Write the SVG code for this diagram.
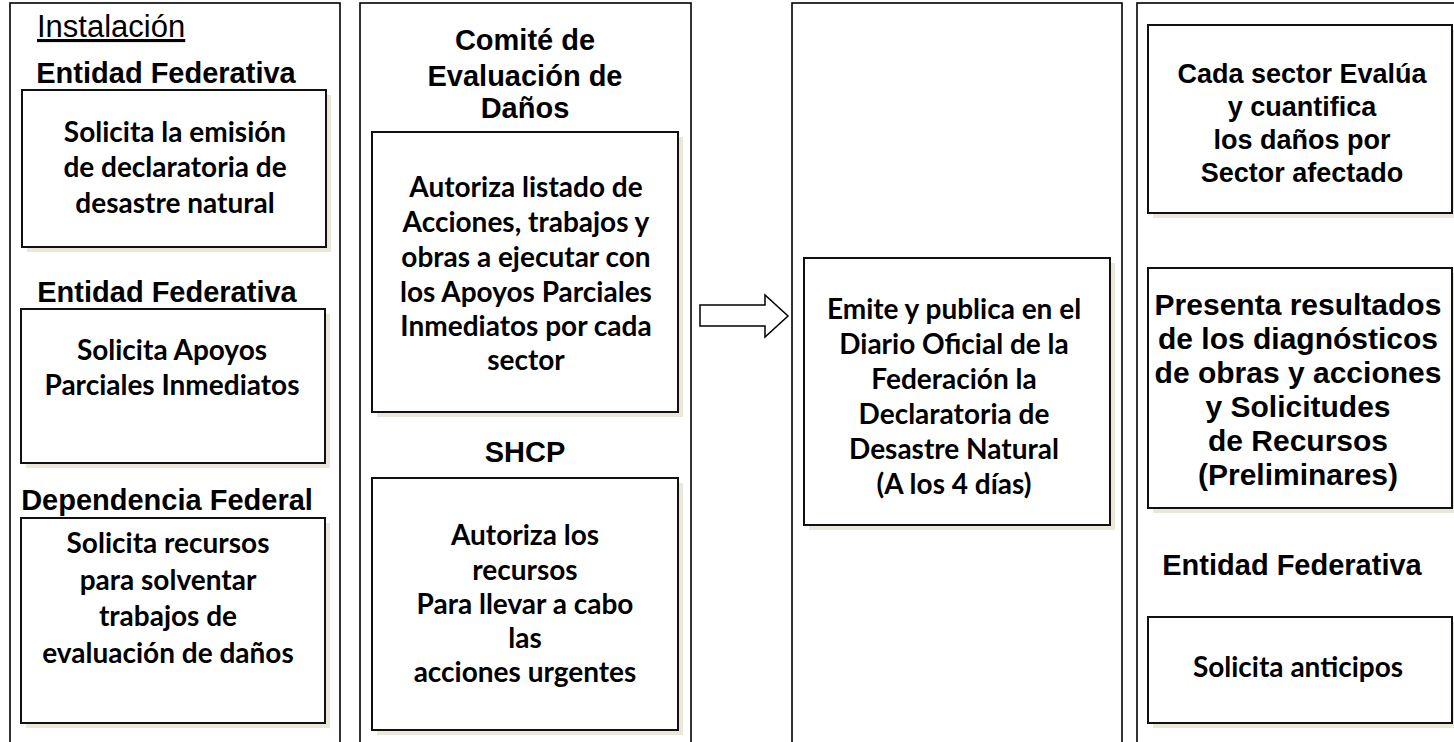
<svg xmlns="http://www.w3.org/2000/svg" width="1454" height="742" viewBox="0 0 1454 742">
<style>
.col{fill:#fff;stroke:#000;stroke-width:1.6}
.box{fill:#fff;stroke:#111;stroke-width:2}
.sh{fill:#ebe7dc}
.hd{font-family:"Liberation Sans",Arial,sans-serif;font-weight:bold;font-size:29px;fill:#000;text-anchor:middle}
.ar{font-family:"Liberation Sans",Arial,sans-serif;font-weight:bold;fill:#000;text-anchor:middle}
.cb{font-family:Lato,"Noto Sans",sans-serif;font-weight:bold;font-size:28px;fill:#000;text-anchor:middle}
.arrow{fill:#fff;stroke:#000;stroke-width:1.5}
</style>
<rect width="1454" height="742" fill="#fff"/>
<g id="columns">
<rect class="col" x="10" y="3" width="330" height="760"/>
<rect class="col" x="360" y="3" width="331" height="760"/>
<rect class="col" x="792" y="3" width="330" height="760"/>
<rect class="col" x="1137" y="3" width="340" height="760"/>
</g>
<g id="col1-title">
<text x="37" y="37" font-family="Liberation Sans,Arial,sans-serif" font-size="31" text-decoration="underline" fill="#000">Instalación</text>
</g>
<g id="n1">
<text class="hd" x="166" y="83">Entidad Federativa</text>
<rect class="sh" x="27" y="95" width="304" height="157"/>
<rect class="box" x="22" y="90" width="304" height="157"/>
<text class="cb" font-size="30" x="175" y="142">Solicita la emisión</text>
<text class="cb" font-size="30" x="175" y="177">de declaratoria de</text>
<text class="cb" font-size="30" x="175" y="213">desastre natural</text>
</g>
<g id="n2">
<text class="hd" x="167" y="302">Entidad Federativa</text>
<rect class="sh" x="26" y="314" width="304" height="154"/>
<rect class="box" x="21" y="309" width="304" height="154"/>
<text class="cb" font-size="27.5" x="172" y="360">Solicita Apoyos</text>
<text class="cb" font-size="27.5" x="172" y="395">Parciales Inmediatos</text>
</g>
<g id="n3">
<text class="hd" x="167" y="510">Dependencia Federal</text>
<rect class="sh" x="26" y="523" width="304" height="205"/>
<rect class="box" x="21" y="518" width="304" height="205"/>
<text class="cb" font-size="27" x="168" y="553">Solicita recursos</text>
<text class="cb" font-size="27" x="168" y="590">para solventar</text>
<text class="cb" font-size="27" x="168" y="626">trabajos de</text>
<text class="cb" font-size="27" x="168" y="663">evaluación de daños</text>
</g>
<g id="n4">
<text class="hd" x="525" y="50">Comité de</text>
<text class="hd" x="525" y="86">Evaluación de</text>
<text class="hd" x="525" y="118">Daños</text>
<rect class="sh" x="377" y="137" width="306" height="280"/>
<rect class="box" x="372" y="132" width="306" height="280"/>
<text class="cb" x="526" y="197">Autoriza listado de</text>
<text class="cb" x="526" y="232">Acciones, trabajos y</text>
<text class="cb" x="526" y="267">obras a ejecutar con</text>
<text class="cb" x="526" y="302">los Apoyos Parciales</text>
<text class="cb" x="526" y="336">Inmediatos por cada</text>
<text class="cb" x="526" y="370">sector</text>
</g>
<g id="n5">
<text class="hd" x="525" y="462">SHCP</text>
<rect class="sh" x="377" y="483" width="306" height="252"/>
<rect class="box" x="372" y="478" width="306" height="252"/>
<text class="cb" x="525" y="545">Autoriza los</text>
<text class="cb" x="525" y="580">recursos</text>
<text class="cb" x="525" y="614">Para llevar a cabo</text>
<text class="cb" x="525" y="648">las</text>
<text class="cb" x="525" y="682">acciones urgentes</text>
</g>
<g id="n6">
<rect class="sh" x="809" y="263" width="306" height="267"/>
<rect class="box" x="804" y="258" width="306" height="267"/>
<text class="cb" x="954" y="319">Emite y publica en el</text>
<text class="cb" x="954" y="354">Diario Oficial de la</text>
<text class="cb" x="954" y="389">Federación la</text>
<text class="cb" x="954" y="424">Declaratoria de</text>
<text class="cb" x="954" y="459">Desastre Natural</text>
<text class="cb" x="954" y="494">(A los 4 días)</text>
</g>
<g id="n7">
<rect class="sh" x="1153" y="30" width="304" height="188"/>
<rect class="box" x="1148" y="25" width="304" height="188"/>
<text class="ar" font-size="27" x="1302" y="83">Cada sector Evalúa</text>
<text class="ar" font-size="27" x="1302" y="116">y cuantifica</text>
<text class="ar" font-size="27" x="1302" y="149">los daños por</text>
<text class="ar" font-size="27" x="1302" y="182">Sector afectado</text>
</g>
<g id="n8">
<rect class="sh" x="1153" y="273" width="304" height="240"/>
<rect class="box" x="1148" y="268" width="304" height="240"/>
<text class="ar" font-size="30" x="1298" y="315">Presenta resultados</text>
<text class="ar" font-size="30" x="1298" y="349">de los diagnósticos</text>
<text class="ar" font-size="30" x="1298" y="383">de obras y acciones</text>
<text class="ar" font-size="30" x="1298" y="417">y Solicitudes</text>
<text class="ar" font-size="30" x="1298" y="451">de Recursos</text>
<text class="ar" font-size="30" x="1298" y="485">(Preliminares)</text>
</g>
<g id="n9">
<text class="hd" x="1292" y="575">Entidad Federativa</text>
<rect class="sh" x="1153" y="622" width="304" height="106"/>
<rect class="box" x="1148" y="617" width="304" height="106"/>
<text class="cb" x="1298" y="677">Solicita anticipos</text>
</g>
<g id="connectors">
<polygon class="arrow" points="700,305 765,305 765,295 788,316 765,337 765,326 700,326"/>
</g>
</svg>
